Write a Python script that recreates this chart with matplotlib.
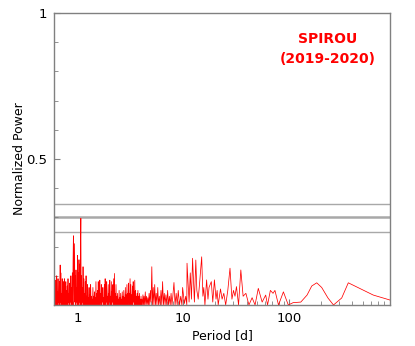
import numpy as np
import matplotlib
matplotlib.use("Agg")
import matplotlib.pyplot as plt
from matplotlib.ticker import FixedLocator, NullFormatter, LogLocator

plt.rcParams['font.family'] = ['DejaVu Sans']

# periodogram (period in days, normalized power)
period = [
    0.600, 0.604, 0.609, 0.613, 0.618, 0.622, 0.627, 0.632, 0.637, 0.641,
    0.646, 0.651, 0.656, 0.661, 0.666, 0.671, 0.676, 0.681, 0.687, 0.692,
    0.697, 0.702, 0.708, 0.713, 0.719, 0.724, 0.730, 0.736, 0.742, 0.747,
    0.753, 0.759, 0.765, 0.771, 0.777, 0.783, 0.789, 0.795, 0.802, 0.808,
    0.815, 0.821, 0.828, 0.834, 0.841, 0.847, 0.854, 0.861, 0.868, 0.875,
    0.882, 0.889, 0.896, 0.903, 0.910, 0.917, 0.924, 0.932, 0.939, 0.947,
    0.954, 0.962, 0.970, 0.978, 0.986, 0.994, 1.002, 1.010, 1.018, 1.026,
    1.035, 1.043, 1.052, 1.060, 1.069, 1.078, 1.086, 1.095, 1.104, 1.113,
    1.122, 1.131, 1.141, 1.150, 1.160, 1.169, 1.179, 1.188, 1.198, 1.208,
    1.218, 1.228, 1.238, 1.248, 1.259, 1.269, 1.280, 1.290, 1.301, 1.312,
    1.323, 1.334, 1.345, 1.356, 1.367, 1.379, 1.390, 1.402, 1.414, 1.425,
    1.437, 1.449, 1.461, 1.474, 1.486, 1.498, 1.511, 1.524, 1.536, 1.549,
    1.562, 1.575, 1.588, 1.602, 1.615, 1.629, 1.642, 1.656, 1.670, 1.684,
    1.698, 1.712, 1.727, 1.741, 1.756, 1.771, 1.785, 1.800, 1.816, 1.831,
    1.846, 1.862, 1.878, 1.893, 1.909, 1.926, 1.942, 1.958, 1.975, 1.992,
    2.008, 2.025, 2.042, 2.060, 2.077, 2.095, 2.113, 2.131, 2.149, 2.167,
    2.185, 2.204, 2.223, 2.242, 2.261, 2.280, 2.299, 2.319, 2.339, 2.359,
    2.379, 2.399, 2.419, 2.440, 2.461, 2.482, 2.503, 2.524, 2.546, 2.568,
    2.590, 2.612, 2.634, 2.657, 2.679, 2.702, 2.725, 2.749, 2.772, 2.796,
    2.820, 2.844, 2.868, 2.893, 2.918, 2.943, 2.968, 2.993, 3.019, 3.045,
    3.071, 3.097, 3.123, 3.150, 3.177, 3.204, 3.232, 3.259, 3.287, 3.316,
    3.344, 3.373, 3.402, 3.431, 3.460, 3.490, 3.520, 3.550, 3.581, 3.611,
    3.642, 3.674, 3.705, 3.737, 3.769, 3.801, 3.834, 3.867, 3.900, 3.933,
    3.967, 4.001, 4.035, 4.070, 4.120, 4.170, 4.220, 4.270, 4.330, 4.390,
    4.450, 4.510, 4.570, 4.640, 4.700, 4.770, 4.840, 4.910, 4.980, 5.060,
    5.140, 5.220, 5.300, 5.390, 5.480, 5.570, 5.660, 5.760, 5.860, 5.960,
    6.070, 6.180, 6.290, 6.400, 6.520, 6.640, 6.760, 6.880, 7.010, 7.140,
    7.280, 7.420, 7.560, 7.700, 7.850, 8.000, 8.200, 8.400, 8.600, 8.800,
    9.000, 9.250, 9.500, 9.750, 9.900, 10.30, 10.60, 10.85, 10.90, 11.40,
    11.70, 12.00, 12.30, 12.80, 13.20, 13.50, 13.90, 14.30, 15.00, 15.40,
    15.70, 16.10, 16.70, 17.20, 17.60, 18.50, 19.10, 19.80, 20.50, 21.00,
    21.50, 22.60, 23.40, 24.30, 25.30, 26.50, 27.80, 29.00, 30.00, 31.00,
    32.00, 33.50, 35.20, 37.00, 39.30, 42.00, 45.00, 48.00, 51.50, 56.00,
    60.50, 63.00, 67.00, 71.00, 74.00, 80.00, 89.00, 99.00, 110.0, 130.0,
    149.0, 165.0, 184.0, 205.0, 235.0, 265.0, 317.0, 366.0, 433.0, 631.0,
    908.0,
]
power = [
    0.097, 0.000, 0.050, 0.010, 0.085, 0.000, 0.030, 0.000, 0.100, 0.010,
    0.045, 0.000, 0.090, 0.010, 0.035, 0.000, 0.080, 0.000, 0.137, 0.010,
    0.110, 0.000, 0.040, 0.010, 0.090, 0.000, 0.050, 0.000, 0.080, 0.010,
    0.090, 0.000, 0.030, 0.000, 0.080, 0.010, 0.050, 0.000, 0.065, 0.000,
    0.090, 0.010, 0.040, 0.000, 0.075, 0.000, 0.050, 0.010, 0.100, 0.000,
    0.060, 0.010, 0.110, 0.000, 0.150, 0.237, 0.000, 0.120, 0.210, 0.010,
    0.100, 0.000, 0.120, 0.010, 0.060, 0.000, 0.170, 0.010, 0.110, 0.000,
    0.155, 0.010, 0.140, 0.000, 0.180, 0.297, 0.000, 0.100, 0.000, 0.060,
    0.010, 0.131, 0.000, 0.090, 0.000, 0.040, 0.010, 0.080, 0.000, 0.100,
    0.000, 0.030, 0.000, 0.070, 0.010, 0.025, 0.000, 0.060, 0.000, 0.035,
    0.000, 0.070, 0.010, 0.030, 0.000, 0.020, 0.000, 0.060, 0.000, 0.030,
    0.010, 0.045, 0.000, 0.025, 0.000, 0.080, 0.000, 0.040, 0.010, 0.050,
    0.000, 0.080, 0.000, 0.030, 0.000, 0.085, 0.010, 0.040, 0.000, 0.070,
    0.000, 0.030, 0.010, 0.060, 0.000, 0.025, 0.000, 0.070, 0.000, 0.090,
    0.000, 0.035, 0.010, 0.080, 0.000, 0.030, 0.000, 0.070, 0.000, 0.040,
    0.010, 0.085, 0.000, 0.030, 0.000, 0.080, 0.000, 0.045, 0.010, 0.070,
    0.000, 0.090, 0.000, 0.108, 0.000, 0.040, 0.000, 0.070, 0.000, 0.030,
    0.000, 0.040, 0.000, 0.020, 0.000, 0.050, 0.000, 0.025, 0.000, 0.040,
    0.000, 0.020, 0.000, 0.045, 0.000, 0.030, 0.000, 0.050, 0.000, 0.025,
    0.000, 0.060, 0.000, 0.035, 0.000, 0.070, 0.000, 0.040, 0.000, 0.075,
    0.010, 0.040, 0.000, 0.090, 0.000, 0.070, 0.000, 0.035, 0.000, 0.065,
    0.000, 0.080, 0.010, 0.045, 0.000, 0.085, 0.000, 0.050, 0.000, 0.030,
    0.000, 0.040, 0.000, 0.050, 0.000, 0.030, 0.000, 0.040, 0.000, 0.020,
    0.000, 0.030, 0.000, 0.020, 0.000, 0.035, 0.000, 0.030, 0.000, 0.045,
    0.000, 0.030, 0.000, 0.025, 0.000, 0.040, 0.000, 0.050, 0.010, 0.131,
    0.000, 0.060, 0.000, 0.070, 0.000, 0.040, 0.000, 0.060, 0.000, 0.030,
    0.000, 0.050, 0.000, 0.080, 0.000, 0.040, 0.000, 0.035, 0.000, 0.050,
    0.000, 0.030, 0.000, 0.040, 0.000, 0.030, 0.077, 0.000, 0.040, 0.000,
    0.050, 0.000, 0.030, 0.000, 0.060, 0.005, 0.030, 0.000, 0.143, 0.010,
    0.110, 0.020, 0.160, 0.010, 0.154, 0.050, 0.020, 0.070, 0.165, 0.030,
    0.060, 0.000, 0.086, 0.020, 0.060, 0.080, 0.010, 0.086, 0.020, 0.050,
    0.000, 0.055, 0.020, 0.040, 0.000, 0.050, 0.126, 0.020, 0.050, 0.030,
    0.063, 0.000, 0.120, 0.030, 0.040, 0.000, 0.025, 0.000, 0.057, 0.010,
    0.034, 0.000, 0.050, 0.040, 0.050, 0.000, 0.045, 0.000, 0.008, 0.010,
    0.034, 0.065, 0.076, 0.060, 0.024, 0.000, 0.024, 0.076, 0.063, 0.034,
    0.017,
]

fap_levels = [0.345, 0.30, 0.25]
fap_widths = [1.0, 1.8, 1.0]

fig = plt.figure(figsize=(4.15, 3.46), dpi=100)
ax = fig.add_axes([0.130, 0.1185, 0.810, 0.8439])

for lev, w in zip(fap_levels, fap_widths):
    ax.axhline(lev, color='#a8a8a8', lw=w, zorder=1)

ax.plot(period, power, color='#ff0000', lw=0.55, zorder=2)

ax.set_xscale('log')
ax.set_xlim(0.6, 910)
ax.set_ylim(0, 1)

ax.set_yticks([0.5, 1])
ax.set_yticklabels(['0.5', '1'])
ax.yaxis.set_minor_locator(FixedLocator(np.arange(0.1, 1.0, 0.1)))
ax.set_xticks([1, 10, 100])
ax.set_xticklabels(['1', '10', '100'])
ax.xaxis.set_minor_locator(LogLocator(base=10, subs=np.arange(2, 10)))
ax.xaxis.set_minor_formatter(NullFormatter())

ax.tick_params(which='both', direction='in', color='#808080', labelsize=9.5,
               pad=5)
ax.tick_params(which='major', length=4, width=0.8)
ax.tick_params(which='minor', length=3, width=0.6)
for s in ax.spines.values():
    s.set_color('#808080')
    s.set_linewidth(1.0)

ax.set_xlabel('Period [d]', fontsize=9, labelpad=3)
ax.set_ylabel('Normalized Power', fontsize=9, labelpad=0)

ax.text(0.815, 0.877, 'SPIROU\n(2019-2020)', transform=ax.transAxes,
        color='#ff0000', fontsize=10, fontweight='bold', ha='center',
        va='center', linespacing=1.6)

fig.savefig('out.png', dpi=100)
